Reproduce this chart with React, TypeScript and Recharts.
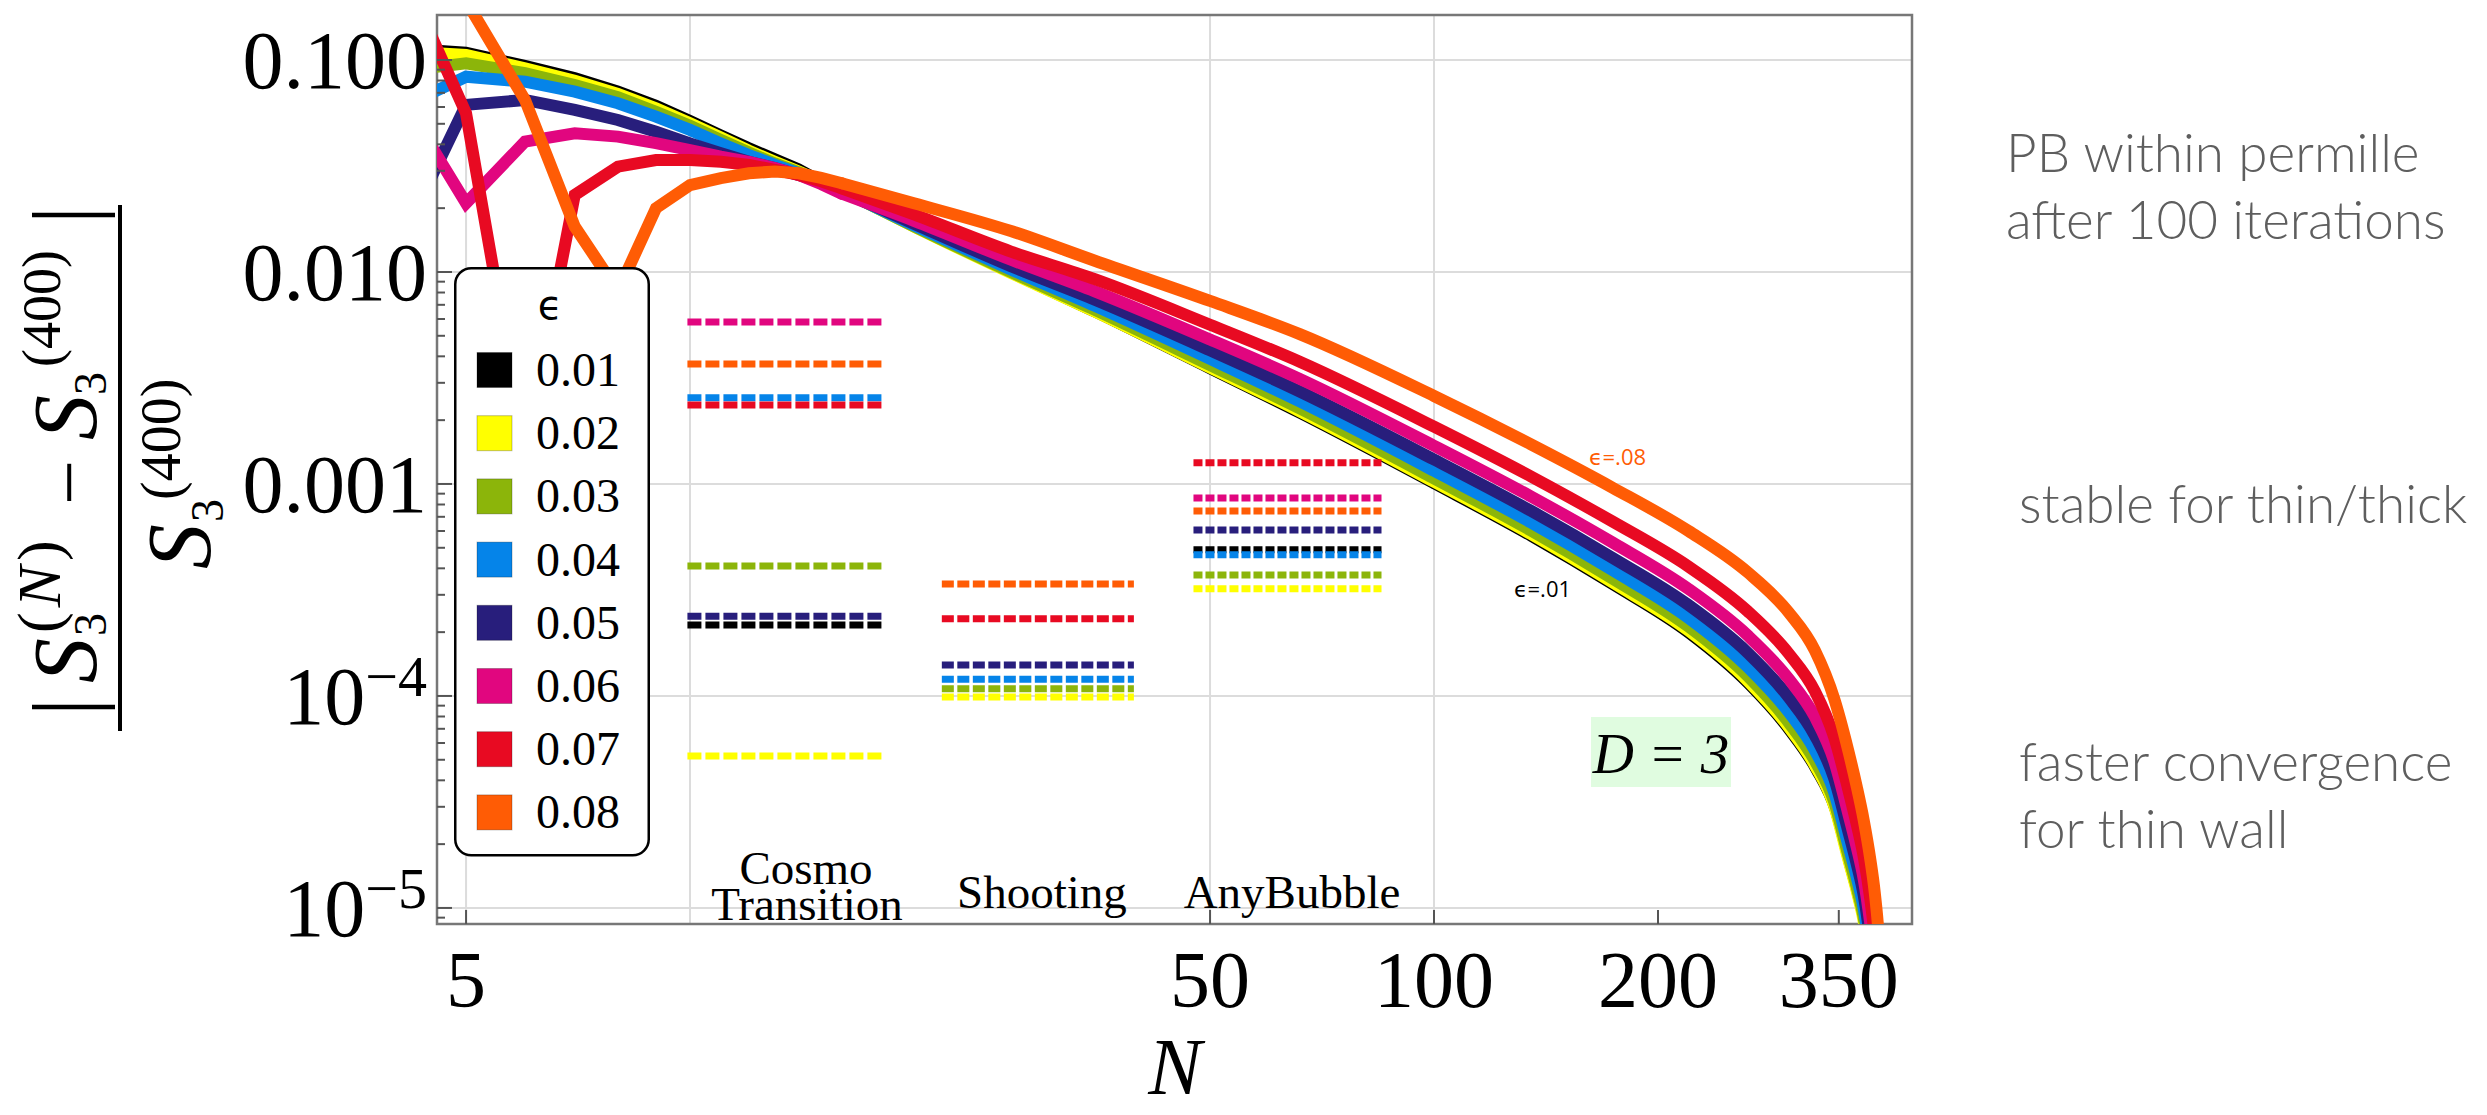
import React from 'react';
import { LineChart, Line, XAxis, YAxis, CartesianGrid, ReferenceArea } from 'recharts';

const SERIF = '"Liberation Serif", "Times New Roman", Times, serif';
const SANS = '"Open Sans", "DejaVu Sans", sans-serif';

// iteration count N (x) and relative error of S3 (y), one list per epsilon
const nValues = [4, 5, 6, 7, 8, 9, 10, 11, 12, 13, 14, 15, 16, 20, 27, 35, 50, 66, 100, 135, 174, 220, 264, 300, 325, 345, 360, 370, 378, 386, 391, 395, 398];
// up to N = 16 the points are joined by straight pieces, after that the curve is smooth
const splitIndex = 12;

const epsLabels = ['0.01', '0.02', '0.03', '0.04', '0.05', '0.06', '0.07', '0.08'];
const epsColors = ['#000000', '#FFFF00', '#8CB50A', '#0584E9', '#281E7C', '#E1067F', '#E80A22', '#FF5C05'];
const epsWidths = [9, 12, 12, 12, 12, 12, 12, 12];

const err001 = [0.1156, 0.110, 0.0954, 0.0834, 0.0722, 0.0618, 0.0525, 0.0449, 0.039, 0.0346, 0.031, 0.0272, 0.0243, 0.0163, 0.0098, 0.0064, 0.00345, 0.00213, 0.00099, 0.00056, 0.00033, 0.000195, 0.000113, 0.000068, 0.000045, 0.000029, 0.0000165, 0.0000115, 0.0000083, 0.000005, 0.0000033, 0.000002, 0.000001];
const err002 = [0.1106, 0.1057, 0.0914, 0.0798, 0.0692, 0.0592, 0.0503, 0.0431, 0.0373, 0.0331, 0.0298, 0.0268, 0.0243, 0.01637, 0.00989, 0.0065, 0.00354, 0.0022, 0.001024, 0.00058, 0.000342, 0.000203, 0.000118, 0.0000711, 0.0000471, 0.0000303, 0.0000172, 0.000012, 0.00000864, 0.00000521, 0.00000345, 0.0000021, 0.00000105];
const err003 = [0.0878, 0.0965, 0.0866, 0.0762, 0.0667, 0.057, 0.0489, 0.042, 0.0366, 0.0325, 0.0295, 0.0267, 0.0242, 0.01643, 0.00999, 0.00663, 0.00364, 0.00227, 0.001062, 0.000603, 0.000357, 0.000212, 0.000124, 0.0000747, 0.0000495, 0.0000317, 0.000018, 0.0000125, 0.00000902, 0.00000544, 0.00000361, 0.0000022, 0.0000011];
const err004 = [0.0578, 0.0834, 0.079, 0.0709, 0.0625, 0.054, 0.0468, 0.0404, 0.0356, 0.032, 0.0292, 0.0266, 0.0241, 0.0166, 0.01028, 0.00692, 0.00389, 0.00245, 0.001155, 0.000658, 0.000391, 0.000233, 0.000137, 0.0000836, 0.0000554, 0.0000352, 0.0000201, 0.0000139, 0.00000996, 0.00000602, 0.00000403, 0.0000025, 0.0000012];
const err005 = [0.012, 0.0614, 0.0648, 0.0581, 0.0521, 0.0459, 0.0404, 0.0363, 0.0331, 0.0309, 0.0287, 0.0264, 0.024, 0.0169, 0.01065, 0.0074, 0.00427, 0.00273, 0.001304, 0.000747, 0.000447, 0.000268, 0.00016, 0.0000982, 0.0000652, 0.0000409, 0.0000234, 0.0000161, 0.0000115, 0.00000697, 0.00000471, 0.0000029, 0.0000014];
const err006 = [0.0762, 0.0211, 0.0412, 0.0451, 0.0435, 0.0405, 0.0376, 0.035, 0.0331, 0.0309, 0.0287, 0.026, 0.0234, 0.01743, 0.01142, 0.0081, 0.0048, 0.00313, 0.001514, 0.000873, 0.000528, 0.000319, 0.000193, 0.00012, 0.0000797, 0.0000494, 0.0000283, 0.0000193, 0.0000137, 0.00000834, 0.00000571, 0.0000035, 0.0000017];
const err007 = [0.322, 0.056, 0.00144, 0.0231, 0.0314, 0.0337, 0.0337, 0.0331, 0.032, 0.0303, 0.0287, 0.0268, 0.0248, 0.01869, 0.01248, 0.00925, 0.00564, 0.00377, 0.001864, 0.001085, 0.000663, 0.000407, 0.000251, 0.000158, 0.0001054, 0.000064, 0.0000368, 0.0000248, 0.0000175, 0.0000109, 0.00000747, 0.0000049, 0.000003];
const err008 = [0.5, 0.19, 0.0648, 0.01637, 0.0081, 0.02, 0.0257, 0.0277, 0.0292, 0.0298, 0.0292, 0.0278, 0.0262, 0.0211, 0.0156, 0.0113, 0.0073, 0.00509, 0.0026, 0.001537, 0.000958, 0.000599, 0.000383, 0.000247, 0.000164, 0.0000972, 0.0000561, 0.0000373, 0.000026, 0.0000168, 0.000012, 0.00000836, 0.0000058];

const curves = [err001, err002, err003, err004, err005, err006, err007, err008];

// other codes: result of each, drawn as a dashed bar over an N range (null = not shown)
const methodNames = ['CosmoTransition', 'Shooting', 'AnyBubble'];
const methodRanges = [[9.92, 18.3], [21.8, 39.5], [47.5, 85]];
const ctValues = [2.16e-4, 5.21e-5, 4.10e-4, 2.55e-3, 2.38e-4, 5.81e-3, 2.36e-3, 3.68e-3];
const shootValues = [null, 9.9e-5, 1.08e-4, 1.20e-4, 1.40e-4, null, 2.31e-4, 3.37e-4];
const abValues = [4.89e-4, 3.20e-4, 3.72e-4, 4.63e-4, 6.07e-4, 8.59e-4, 1.26e-3, 7.46e-4];
const methodValues = [ctValues, shootValues, abValues];
const methodDash = ['14 4', '12 3.5', '9 3'];

// axes
const xDomain = [4.57, 439];
const yDomain = [8.4e-6, 0.163];
const xTicks = [5, 50, 100, 200, 350];
const xGrid = [5, 10, 50, 100];
const yMajor = [0.1, 0.01, 0.001, 0.0001, 0.00001];
const yMajorBase = ['0.100', '0.010', '0.001', '10', '10'];
const yMajorExp = ['', '', '', '−4', '−5'];
const yMinor = [1e-6, 1e-5, 1e-4, 1e-3, 1e-2]
  .flatMap(d => [2, 3, 4, 5, 6, 7, 8, 9].map(k => k * d))
  .filter(v => v > yDomain[0] && v < yDomain[1]);

const lineData = curves.map(c => nValues.map((n, i) => ({ N: n, v: c[i] })));

const segments: { key: string; color: string; dash: string; data: { N: number; v: number }[] }[] = [];
methodValues.forEach((vals, m) => {
  vals.forEach((v, e) => {
    if (v == null) return;
    segments.push({
      key: `${methodNames[m]}-${epsLabels[e]}`,
      color: epsColors[e],
      dash: methodDash[m],
      data: [{ N: methodRanges[m][0], v }, { N: methodRanges[m][1], v }],
    });
  });
});

function XTick(props: any) {
  const { x, y, payload } = props;
  return (
    <g>
      <line x1={x} x2={x} y1={y} y2={y - 14} stroke="#555" strokeWidth={2} />
      <text x={x} y={y + 83} textAnchor="middle" fontFamily={SERIF} fontSize={80} fill="#000">{payload.value}</text>
    </g>
  );
}

function YTick(props: any) {
  const { x, y, payload } = props;
  const i = yMajor.indexOf(payload.value);
  if (i < 0) return <line x1={x} x2={x + 8} y1={y} y2={y} stroke="#555" strokeWidth={2} />;
  return (
    <g>
      <line x1={x} x2={x + 15} y1={y} y2={y} stroke="#555" strokeWidth={2} />
      <text x={x - 10} y={y + 28} textAnchor="end" fontFamily={SERIF} fontSize={82} fill="#000">
        {yMajorBase[i]}
        {yMajorExp[i] && <tspan dy={-28} fontSize={58}>{yMajorExp[i]}</tspan>}
      </text>
    </g>
  );
}

function LegendBox() {
  return (
    <svg width={196} height={590} style={{ position: 'absolute', left: 454, top: 267 }}>
      <rect x={1.25} y={1.25} width={193.5} height={587} rx={16} fill="#fff" stroke="#000" strokeWidth={2.5} />
      <text x={96} y={52} textAnchor="middle" fontFamily='"DejaVu Sans", sans-serif' fontSize={40}>ϵ</text>
      {epsLabels.map((lab, i) => {
        const cy = 103 + 63.2 * i;
        return (
          <g key={lab}>
            <rect x={23} y={cy - 17.5} width={35} height={35} fill={epsColors[i]} stroke="rgba(0,0,0,0.25)" strokeWidth={1} />
            <text x={82} y={cy + 16} fontFamily={SERIF} fontSize={48} fill="#000">{lab}</text>
          </g>
        );
      })}
    </svg>
  );
}

function Overlay() {
  const note = { fontFamily: 'Lato, "Open Sans", sans-serif', fontWeight: 300, fontSize: 53, fill: '#5e5e5e' } as const;
  return (
    <svg width={2487} height={1115} style={{ position: 'absolute', left: 0, top: 0, pointerEvents: 'none' }}>
      {/* y axis title, written sideways */}
      <g transform="rotate(-90)" fontFamily={SERIF} fill="#000">
        <text x={-716} y={96} fontSize={90}>|</text>
        <text x={-683} y={96} fontSize={90} fontStyle="italic">S</text>
        <text x={-636} y={106} fontSize={46}>3</text>
        <text x={-633} y={60} fontSize={62} letterSpacing={5}>(<tspan fontStyle="italic">N</tspan>)</text>
        <text x={-505} y={96} fontSize={80}>−</text>
        <text x={-440} y={96} fontSize={90} fontStyle="italic">S</text>
        <text x={-395} y={106} fontSize={46}>3</text>
        <text x={-367} y={60} fontSize={54}>(400)</text>
        <text x={-224} y={96} fontSize={90}>|</text>
        <text x={-569} y={210} fontSize={90} fontStyle="italic">S</text>
        <text x={-522} y={223} fontSize={46}>3</text>
        <text x={-500} y={180} fontSize={56}>(400)</text>
      </g>
      <line x1={120} x2={120} y1={205} y2={731} stroke="#000" strokeWidth={4} />

      {/* x axis title */}
      <text x={1175} y={1094} textAnchor="middle" fontFamily={SERIF} fontStyle="italic" fontSize={80}>N</text>

      {/* code names */}
      <g fontFamily={SERIF} fontSize={47} fill="#000" textAnchor="middle">
        <text x={806} y={884}>
          Cosmo
          <tspan x={807} dy={36}>Transition</tspan>
        </text>
        <text x={1042} y={908}>Shooting</text>
        <text x={1292} y={908}>AnyBubble</text>
      </g>

      {/* curve tags */}
      <text x={1589} y={465} fontFamily={SANS} fontSize={22} fill="#FF5C05">ϵ=.08</text>
      <text x={1514} y={597} fontFamily={SANS} fontSize={22} fill="#000">ϵ=.01</text>

      {/* D = 3 */}
      <rect x={1591} y={717} width={140} height={70} fill="#E0FCE0" />
      <text x={1661} y={773} textAnchor="middle" fontFamily={SERIF} fontStyle="italic" fontSize={57}>D = 3</text>

      {/* side notes */}
      <text x={2006} y={172} {...note}>PB within permille</text>
      <text x={2006} y={239} {...note}>after 100 iterations</text>
      <text x={2019} y={523} {...note}>stable for thin/thick</text>
      <text x={2019} y={781} {...note}>faster convergence</text>
      <text x={2019} y={848} {...note}>for thin wall</text>
    </svg>
  );
}

export default function App() {
  return (
    <div style={{ position: 'absolute', left: 0, top: 0, width: 2487, height: 1115, background: '#fff' }}>
      <LineChart width={2487} height={1115} margin={{ top: 15, right: 575, bottom: 91, left: 237 }}>
        <CartesianGrid horizontalValues={yMajor} verticalValues={xGrid} stroke="#dcdcdc" strokeWidth={2} />
        <XAxis
          dataKey="N" type="number" scale="log" domain={xDomain} allowDataOverflow
          ticks={xTicks} interval={0} height={100} tickSize={0} tickMargin={0}
          axisLine={false} tickLine={false} tick={(p: any) => <XTick {...p} />}
        />
        <YAxis
          dataKey="v" type="number" scale="log" domain={yDomain} allowDataOverflow
          ticks={[...yMajor, ...yMinor]} interval={0} width={200} tickSize={0} tickMargin={0}
          axisLine={false} tickLine={false} tick={(p: any) => <YTick {...p} />}
        />
        {lineData.flatMap((d, i) => [
          <Line
            key={`${epsLabels[i]}-a`} data={d.slice(0, splitIndex + 1)} dataKey="v" type="linear"
            stroke={epsColors[i]} strokeWidth={epsWidths[i]} strokeLinecap="round"
            dot={false} activeDot={false} isAnimationActive={false}
          />,
          <Line
            key={`${epsLabels[i]}-b`} data={d.slice(splitIndex)} dataKey="v" type="monotoneX"
            stroke={epsColors[i]} strokeWidth={epsWidths[i]} strokeLinecap="round"
            dot={false} activeDot={false} isAnimationActive={false}
          />,
        ])}
        {segments.map(s => (
          <Line
            key={s.key} data={s.data} dataKey="v" type="linear" stroke={s.color}
            strokeWidth={7} strokeDasharray={s.dash} dot={false} activeDot={false} isAnimationActive={false}
          />
        ))}
        <ReferenceArea x1={xDomain[0]} x2={xDomain[1]} y1={yDomain[0]} y2={yDomain[1]} fill="none" fillOpacity={0} stroke="#777" strokeWidth={2.5} />
      </LineChart>
      <Overlay />
      <LegendBox />
    </div>
  );
}
